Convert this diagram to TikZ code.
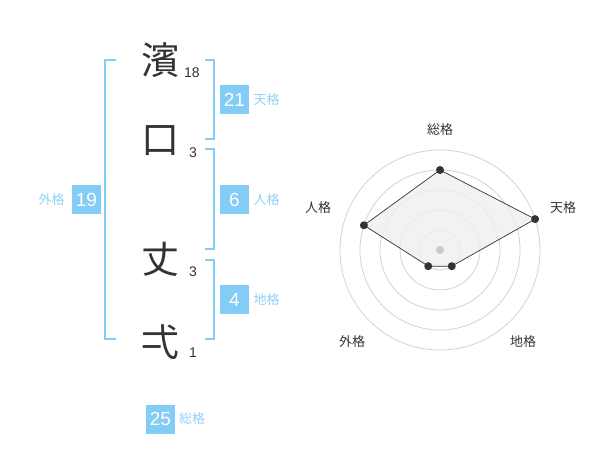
\documentclass[tikz,border=0pt]{standalone}
\usepackage{fontspec}
\setmainfont{Liberation Sans}
\newfontfamily\cjkfont{Noto Sans CJK JP}
\definecolor{kaku}{HTML}{82CCF6}
\definecolor{kakutext}{HTML}{8FD2F7}
\definecolor{ink}{HTML}{333333}
\definecolor{ring}{HTML}{D2D2D2}
\definecolor{area}{HTML}{EFEFEF}
\definecolor{hub}{HTML}{C8C8C8}
\usetikzlibrary{positioning}
\tikzstyle{base}=[inner sep=0pt, outer sep=0pt]
\tikzstyle{moji}=[text=ink, font=\cjkfont\fontsize{38}{38}\selectfont]
\tikzstyle{kakusu}=[text=ink, font=\fontsize{14}{14}\selectfont]
\tikzstyle{kakubox}=[fill=kaku, text=white, minimum size=29pt, font=\fontsize{19}{19}\selectfont]
\tikzstyle{kakuname}=[text=kakutext, font=\cjkfont\fontsize{13}{13}\selectfont]
\tikzstyle{bracket}=[draw=kaku, line width=2pt]
\tikzstyle{radarname}=[text=ink, font=\cjkfont\fontsize{13}{13}\selectfont]

\begin{document}
\begin{tikzpicture}[base, x=1pt, y=-1pt]
    \path [use as bounding box] (0,0) rectangle (600,470);
    % name
    \node [moji] (c1) at (160,60) {濱};
    \node [moji] (c2) at (160,141) {口};
    \node [moji] (c3) at (160,259) {丈};
    \node [moji] (c4) at (160,342) {弌};
    \node [kakusu] (n1) at (192,73) {18};
    \node [kakusu] (n2) at (193,153) {3};
    \node [kakusu] (n3) at (193,272) {3};
    \node [kakusu] (n4) at (193,353) {1};
    % brackets
        \draw [bracket] (116,60) -- (105,60) -- (105,339) -- (116,339);
        \draw [bracket] (205,60) -- (214,60) -- (214,139) -- (205,139);
        \draw [bracket] (205,149) -- (214,149) -- (214,249) -- (205,249);
        \draw [bracket] (205,260) -- (214,260) -- (214,339) -- (205,339);
    % kaku
    \node [kakubox] (ten) at (234.5,100) {21};
    \node [kakuname, right=4.5pt of ten] (tenname) {天格};
    \node [kakubox] (jin) at (234.5,200) {6};
    \node [kakuname, right=4.5pt of jin] (jinname) {人格};
    \node [kakubox] (chi) at (234.5,300) {4};
    \node [kakuname, right=4.5pt of chi] (chiname) {地格};
    \node [kakubox] (gai) at (86.5,200) {19};
    \node [kakuname, left=7.5pt of gai] (gainame) {外格};
    \node [kakubox] (sou) at (160.5,419) {25};
    \node [kakuname, right=4pt of sou] (souname) {総格};
    % radar
    \begin{scope}[shift={(440,250)}, x=1pt, y=1pt]
        \foreach \r in {20,40,...,100}
            \draw [ring, line width=0.8pt] (0,0) circle (\r);
        \coordinate (psou) at (90:80);
        \coordinate (pten) at (18:100);
        \coordinate (pchi) at (-54:20);
        \coordinate (pgai) at (-126:20);
        \coordinate (pjin) at (162:80);
        \draw [ink, fill=area, fill opacity=0.8, line width=0.7pt]
            (psou) -- (pten) -- (pchi) -- (pgai) -- (pjin) -- cycle;
        \foreach \p in {psou,pten,pchi,pgai,pjin}
            \fill [ink] (\p) circle (4);
        \fill [hub] (0,0) circle (4);
        \node [radarname] (rsou) at (0,120) {総格};
        \node [radarname] (rten) at (123,42) {天格};
        \node [radarname] (rjin) at (-122,42) {人格};
        \node [radarname] (rgai) at (-88,-92) {外格};
        \node [radarname] (rchi) at (83,-92) {地格};
    \end{scope}
\end{tikzpicture}
\end{document}
